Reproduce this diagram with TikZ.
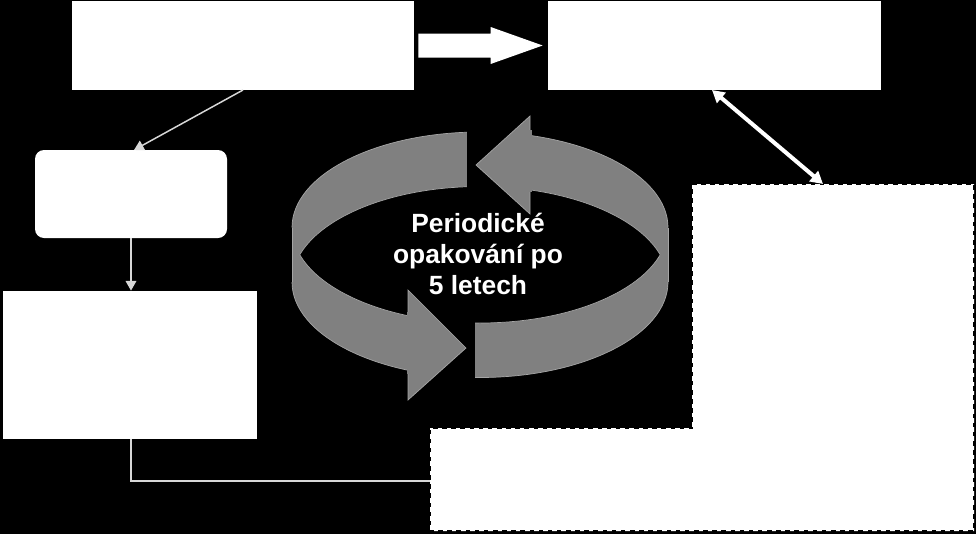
\documentclass[tikz,border=0pt]{standalone}
\usepackage{fontspec}
\setmainfont{Liberation Sans}
\usetikzlibrary{arrows.meta,fit,calc}
\definecolor{ringgray}{RGB}{128,128,128}
\definecolor{ringedge}{RGB}{165,165,165}
\definecolor{thinline}{RGB}{215,215,215}
\tikzset{
  whitebox/.style={fill=white,draw=none,inner sep=0pt},
  thinconn/.style={draw=thinline,line width=0.85pt,-{Triangle[length=5.5pt,width=6pt]}},
  plainconn/.style={draw=thinline,line width=0.85pt},
  dblconn/.style={draw=white,line width=2.3pt,{Triangle[length=7pt,width=7.5pt]}-{Triangle[length=7pt,width=7.5pt]}},
  dashedbox/.style={fill=white,draw=black,line width=1.2pt,dash pattern=on 2.6pt off 2.6pt},
  ringfill/.style={fill=ringgray},
  ringline/.style={draw=ringedge,line width=0.4pt},
  cyctext/.style={text=white,font=\bfseries\fontsize{15}{17.6}\selectfont,align=center}
}
\begin{document}
\begin{tikzpicture}[x=0.02cm,y=-0.02cm]
\fill[black] (0,0) rectangle (976,534);
\useasboundingbox (0,0) rectangle (976,534);

% boxes
\node[whitebox,fit={(72,1) (414,90)}] (A) {};
\node[whitebox,fit={(548,1) (881,90)}] (B) {};
\node[whitebox,rounded corners=0.18cm,fit={(35,150) (227,238)}] (C) {};
\node[whitebox,fit={(3,291) (257,439)}] (D) {};
\path[dashedbox] (692,184) -- (974,184) -- (974,531) -- (430,531) -- (430,428) -- (692,428) -- cycle;
\coordinate (Etop) at (823,184);
\coordinate (Eleft) at (430,481);
\coordinate (Cin) at (134,150);
\coordinate (Aout) at (243,90);
\coordinate (Bout) at (712,90);

% block arrow A -> B
\fill[white] ($(A.east)+(4,-12)$) -- ($(B.west)+(-57,-12)$) -- ($(B.west)+(-57,-18.5)$)
  -- ($(B.west)+(-5,0)$) -- ($(B.west)+(-57,18.5)$) -- ($(B.west)+(-57,12)$)
  -- ($(A.east)+(4,12)$) -- cycle;

% thin connectors
\draw[thinconn] (Aout) -- (Cin);
\draw[thinconn] (C.south -| 131,0) -- (D.north -| 131,0);
\draw[plainconn] (D.south -| 131,0) |- (Eleft);
\draw[dblconn] (Bout) -- (Etop);

% cycle ring
\fill[ringfill] (480,227.5) ellipse [x radius=188, y radius=95.5];
\fill[ringfill] (480,282) ellipse [x radius=188, y radius=95.5];
\fill[ringfill] (292,227.5) rectangle (668,282);
\begin{scope}
  \clip (480,227.5) ellipse [x radius=188, y radius=95.5];
  \fill[black] (480,282) ellipse [x radius=188, y radius=95.5];
\end{scope}
% edges
\draw[ringline] (292,227.5) arc[start angle=180, end angle=0, x radius=188, y radius=-95.5];
\draw[ringline] (292,282) arc[start angle=180, end angle=360, x radius=188, y radius=-95.5];
\draw[ringline] (292,227.5) -- (292,282);
\draw[ringline] (668,227.5) -- (668,282);
\begin{scope}
  \clip (480,227.5) ellipse [x radius=188, y radius=95.5];
  \draw[ringline] (480,282) ellipse [x radius=188, y radius=95.5];
\end{scope}
\begin{scope}
  \clip (480,282) ellipse [x radius=188, y radius=95.5];
  \draw[ringline] (480,227.5) ellipse [x radius=188, y radius=95.5];
\end{scope}
% gaps
\fill[black] (467,118) rectangle (530,200);
\fill[black] (408,296) rectangle (475,400);
% arrowheads
\filldraw[ringfill,ringline] (530,116) -- (476,165) -- (530,214) -- cycle;
\filldraw[ringfill,ringline] (408,290) -- (466,348) -- (408,400) -- cycle;
\fill[ringfill] (529,130) rectangle (531.5,192);
\fill[ringfill] (406.5,312) rectangle (409,374);

\node[cyctext] (cyc) at (478,254) {Periodické\\opakování po\\5 letech};
\end{tikzpicture}
\end{document}
